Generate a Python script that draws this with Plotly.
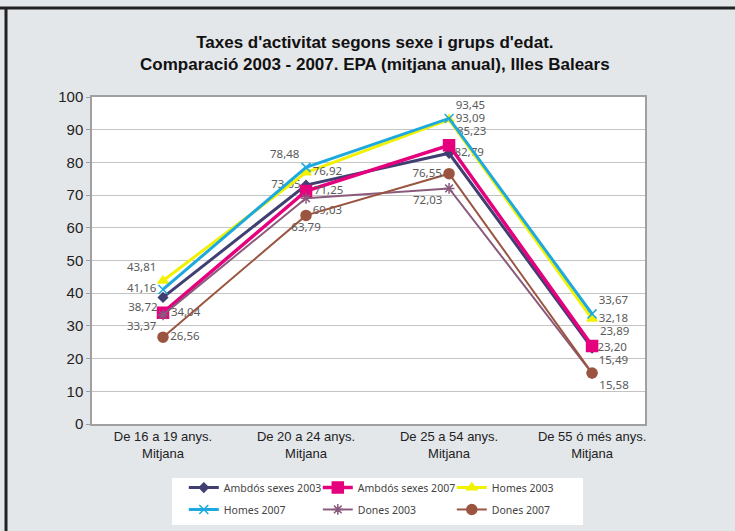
import plotly.graph_objects as go

categories = ["De 16 a 19 anys.<br>Mitjana", "De 20 a 24 anys.<br>Mitjana",
              "De 25 a 54 anys.<br>Mitjana", "De 55 ó més anys.<br>Mitjana"]

series_names = ["Ambdós sexes 2003", "Ambdós sexes 2007", "Homes 2003",
                "Homes 2007", "Dones 2003", "Dones 2007"]

ambdos_2003 = [38.72, 73.05, 82.79, 23.20]
ambdos_2007 = [34.04, 71.25, 85.23, 23.89]
homes_2003 = [43.81, 76.92, 93.09, 32.18]
homes_2007 = [41.16, 78.48, 93.45, 33.67]
dones_2003 = [33.37, 69.03, 72.03, 15.49]
dones_2007 = [26.56, 63.79, 76.55, 15.58]

values = [ambdos_2003, ambdos_2007, homes_2003, homes_2007, dones_2003, dones_2007]

colors = ["#3f3f72", "#e5007d", "#f2f200", "#1ea9de", "#8a5a7c", "#9a5540"]
symbols = ["diamond", "square", "triangle-up", "x-thin", "asterisk", "circle"]
msizes = [7, 11, 9, 9, 9, 10]
widths = [3, 3.5, 3, 3, 2, 2]
legends = ["legend", "legend", "legend", "legend2", "legend2", "legend2"]
text_pos = [
    ["bottom left", "middle left", "middle right", "middle right"],
    ["middle right", "middle right", "top right", "top right"],
    ["top left", "middle right", "middle right", "middle right"],
    ["middle left", "top left", "top right", "top right"],
    ["bottom left", "bottom right", "bottom left", "top right"],
    ["middle right", "bottom center", "middle left", "bottom right"],
]

fig = go.Figure()
for name, vals, c, s, ms, w, tp, lg in zip(series_names, values, colors, symbols,
                                           msizes, widths, text_pos, legends):
    fig.add_trace(go.Scatter(
        x=categories, y=vals, name=name, mode="lines+markers+text",
        line=dict(color=c, width=w),
        marker=dict(symbol=s, size=ms, color=c, line=dict(color=c, width=1.5)),
        text=[f"{v:.2f}".replace(".", ",") for v in vals],
        textposition=tp,
        textfont=dict(family="Noto Sans, sans-serif", size=11.5, color="#5a5a5a"),
        cliponaxis=False, legend=lg,
    ))

legend_style = dict(
    orientation="h", xanchor="left", yanchor="top", x=0.166,
    bgcolor="rgba(0,0,0,0)", entrywidth=89, itemwidth=30,
    font=dict(family="Noto Sans, sans-serif", size=10.5, color="#444444"),
    traceorder="normal",
)

fig.update_layout(
    width=735, height=531,
    margin=dict(l=92, r=90, t=97, b=107, autoexpand=False),
    paper_bgcolor="#e4e7ea",
    plot_bgcolor="white",
    title=dict(
        text="<b>Taxes d'activitat segons sexe i grups d'edat.<br>Comparació 2003 - 2007. EPA (mitjana anual), Illes Balears</b>",
        x=0.51, xanchor="center", y=0.91, yanchor="middle",
        font=dict(family="Liberation Sans, Arial, sans-serif", size=17, color="#111111"),
    ),
    showlegend=True,
    legend=dict(legend_style, y=-0.150),
    legend2=dict(legend_style, y=-0.217),
    shapes=[
        dict(type="rect", xref="paper", yref="paper", x0=0.1447, x1=0.888,
             y0=-0.309, y1=-0.165, fillcolor="white", line=dict(width=0)),
        dict(type="line", xref="paper", yref="paper", x0=-0.2, x1=1.2,
             y0=1.272, y1=1.272, line=dict(color="#222222", width=3)),
        dict(type="line", xref="paper", yref="paper", x0=-0.1555, x1=-0.1555,
             y0=-0.4, y1=1.272, line=dict(color="#222222", width=3)),
    ],
)
fig.update_xaxes(
    range=[-0.4965, 3.37], showgrid=False, showline=True, linecolor="#a0a0a0",
    linewidth=1.5, mirror=True, ticks="",
    tickfont=dict(family="Liberation Sans, Arial, sans-serif", size=13, color="#222222"),
)
fig.update_yaxes(
    range=[0, 100], dtick=10, showgrid=True, gridcolor="#c4c4c4", gridwidth=1,
    showline=True, linecolor="#a0a0a0", linewidth=1.5, mirror=True,
    ticks="outside", ticklen=4, tickcolor="#a0a0a0", zeroline=False,
    tickfont=dict(family="Liberation Sans, Arial, sans-serif", size=15, color="#222222"),
)

fig.write_html("out.html", config={"displayModeBar": False},
               post_script="document.body.style.margin='0';")
